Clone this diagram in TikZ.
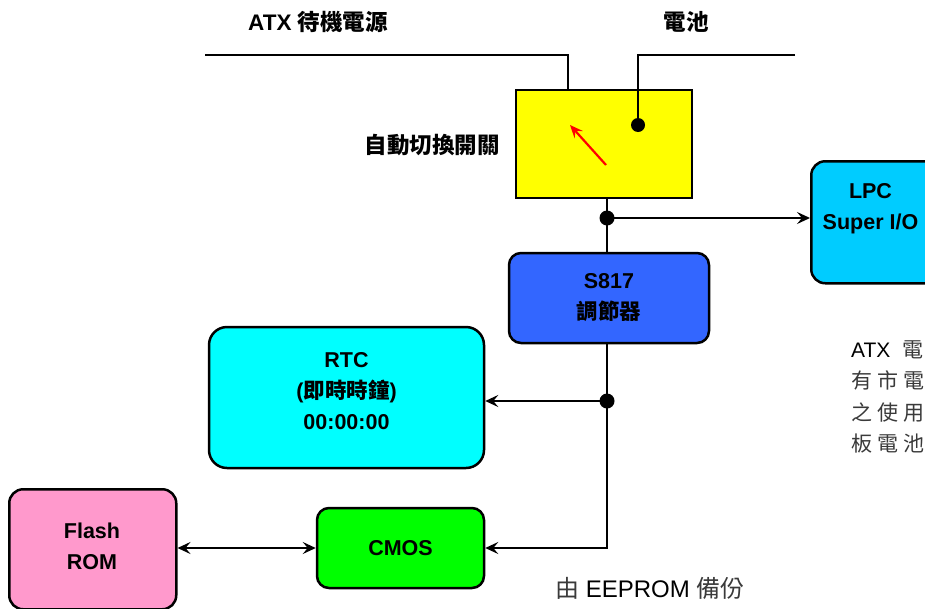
\documentclass[tikz,border=0pt]{standalone}
\usepackage{fontspec}
\setmainfont{Liberation Sans}
\newfontfamily\cjk{Noto Sans CJK TC}
\newfontfamily\cjkls[LetterSpace=24]{Noto Sans CJK TC}
\usetikzlibrary{arrows.meta}
\definecolor{swyellow}{HTML}{FFFF00}
\definecolor{lpccyan}{HTML}{00CCFF}
\definecolor{regblue}{HTML}{3366FF}
\definecolor{rtccyan}{HTML}{00FFFF}
\definecolor{flashpink}{HTML}{FF99CC}
\definecolor{cmosgreen}{HTML}{00FF00}
\definecolor{notegray}{HTML}{3A3A3A}
\tikzset{
  blk/.style={draw=black, line width=2.5pt, rounded corners=14pt, align=center,
    font=\fontsize{21.5}{31}\selectfont\bfseries, inner sep=0pt},
  wire/.style={line width=2.2pt},
  arr/.style={wire, -{Stealth[length=13pt,width=12pt,inset=5pt]}},
  darr/.style={wire, {Stealth[length=13pt,width=12pt,inset=5pt]}-{Stealth[length=13pt,width=12pt,inset=5pt]}},
  jdot/.style={circle, fill=black, inner sep=0pt, minimum size=15pt},
  hdr/.style={font=\fontsize{22.5}{26}\selectfont\bfseries},
}
\begin{document}
\begin{tikzpicture}[x=1pt,y=-1pt]
\clip (0,0) rectangle (925,608);
\fill[white] (0,0) rectangle (925,608);

% headers
\node[hdr] (hatx) at (318,22) {ATX {\cjk\bfseries 待機電源}};
\node[hdr] (hbat) at (686,22) {\cjk\bfseries 電池};

% switch box
\node[draw=black, line width=2.5pt, fill=swyellow, minimum width=176pt, minimum height=108pt, inner sep=0pt] (sw) at (604,144) {};
\node[anchor=east, font=\fontsize{22.5}{26}\selectfont\cjk\bfseries, inner sep=0pt] (swl) at (500,145) {自動切換開關};
\node[jdot, minimum size=14pt] (bdot) at (638,125) {};
\draw[red, line width=2.2pt, -{Stealth[length=13pt,width=11pt,inset=5pt]}] (606,165) coordinate (rs) -- (570,125) coordinate (re);

% top wires
\coordinate (atxL) at (205,55);
\coordinate (atxC) at (568,55);
\coordinate (batR) at (795,55);
\coordinate (batC) at (638,55);
\draw[wire] (atxL) -- (atxC) -- (atxC |- sw.north);
\draw[wire] (batR) -- (batC) -- (bdot.center);

% LPC
\node[blk, fill=lpccyan, minimum width=150pt, minimum height=122pt, anchor=north west] (lpc) at (810,160) {};
\node[font=\fontsize{21.5}{31}\selectfont\bfseries, align=center] (lpct) at (870.5,209) {LPC\\Super I/O};

% S817
\node[blk, fill=regblue, minimum width=200pt, minimum height=90pt, rounded corners=12pt] (reg) at (609,298) {S817\\{\cjk\bfseries 調節器}};

% RTC
\node[blk, fill=rtccyan, minimum width=275pt, minimum height=141pt, rounded corners=18pt] (rtc) at (346.5,397.5) {};
\node[font=\fontsize{21.5}{31}\selectfont\bfseries, align=center] (rtct) at (346.5,391) {RTC\\({\cjk\bfseries 即時時鐘})\\00:00:00};

% Flash ROM
\node[blk, fill=flashpink, minimum width=167pt, minimum height=120pt, anchor=north west] (flash) at (8,488) {};
\node[font=\fontsize{21.5}{31}\selectfont\bfseries, align=center] (flasht) at (92,546) {Flash\\ROM};

% CMOS
\node[blk, fill=cmosgreen, minimum width=167pt, minimum height=80pt, rounded corners=12pt] (cmos) at (400.5,548) {CMOS};

% connections
\node[jdot] (j1) at (607,218) {};
\node[jdot] (j2) at (607,401) {};
\coordinate (corner) at (607,548);
\draw[wire] (sw.south -| j1) -- (j1.center) -- (j1 |- reg.north);
\draw[arr] (j1.center) -- (lpc.west |- j1);
\draw[wire] (reg.south -| j2) -- (j2.center);
\draw[arr] (j2.center) -- (rtc.east |- j2);
\draw[arr] (j2.center) -- (corner) -- (cmos.east |- corner);
\draw[darr] (flash.east |- cmos) -- (cmos.west);

% notes
\node[anchor=west, font=\fontsize{24}{26}\selectfont, inner sep=0pt] (eep) at (555,588) {{\color{notegray}\cjk 由} EEPROM {\color{notegray}\cjk 備份}};
\node[anchor=north west, align=left, font=\fontsize{21}{31.3}\selectfont, inner sep=0pt] (note) at (851,340)
  {ATX~~{\color{notegray}\cjkls 電源}\\{\color{notegray}\cjkls 有市電供}\\{\color{notegray}\cjkls 之使用壽}\\{\color{notegray}\cjkls 板電池的}};
\end{tikzpicture}
\end{document}
